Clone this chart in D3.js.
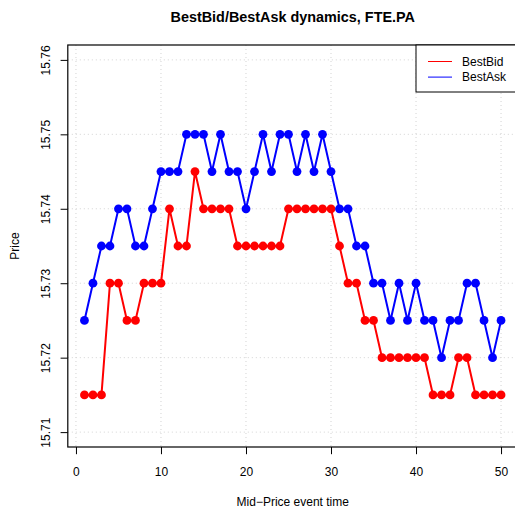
<!DOCTYPE html>
<html>
<head>
<meta charset="utf-8">
<script src="https://cdn.jsdelivr.net/npm/d3@7"></script>
<style>
  body { margin: 0; background: #fff; }
  text { font-family: "Liberation Sans", Arial, sans-serif; fill: #000; }
</style>
</head>
<body>
<div class="chart"></div>
<script>
// data
const times = d3.range(1, 51)
const bestBid = [
  15.715, 15.715, 15.715, 15.73, 15.73, 15.725, 15.725, 15.73, 15.73, 15.73,
  15.74, 15.735, 15.735, 15.745, 15.74, 15.74, 15.74, 15.74, 15.735, 15.735,
  15.735, 15.735, 15.735, 15.735, 15.74, 15.74, 15.74, 15.74, 15.74, 15.74,
  15.735, 15.73, 15.73, 15.725, 15.725, 15.72, 15.72, 15.72, 15.72, 15.72,
  15.72, 15.715, 15.715, 15.715, 15.72, 15.72, 15.715, 15.715, 15.715, 15.715
]
const bestAsk = [
  15.725, 15.73, 15.735, 15.735, 15.74, 15.74, 15.735, 15.735, 15.74, 15.745,
  15.745, 15.745, 15.75, 15.75, 15.75, 15.745, 15.75, 15.745, 15.745, 15.74,
  15.745, 15.75, 15.745, 15.75, 15.75, 15.745, 15.75, 15.745, 15.75, 15.745,
  15.74, 15.74, 15.735, 15.735, 15.73, 15.73, 15.725, 15.73, 15.725, 15.73,
  15.725, 15.725, 15.72, 15.725, 15.725, 15.73, 15.73, 15.725, 15.72, 15.725
]
const xTicks = [0, 10, 20, 30, 40, 50]
const yTicks = [15.71, 15.72, 15.73, 15.74, 15.75, 15.76]
const seriesNames = ['BestBid', 'BestAsk']
const seriesColors = ['red', 'blue']

const W = 515, H = 509
const plot = {left: 67.8, right: 517.7, top: 45, bottom: 447}

const svg = d3.select('.chart').append('svg')
  .attr('width', W).attr('height', H)

const x = d3.scaleLinear().domain([-0.96, 51.96]).range([plot.left, plot.right])
const y = d3.scaleLinear().domain([15.708, 15.762]).range([plot.bottom, plot.top])

// grid
svg.append('g').selectAll('line').data(xTicks).enter().append('line')
  .attr('x1', d => x(d)).attr('x2', d => x(d))
  .attr('y1', plot.top).attr('y2', plot.bottom)
  .style('stroke', '#d3d3d3').style('stroke-dasharray', '1,3')
svg.append('g').selectAll('line').data(yTicks).enter().append('line')
  .attr('x1', plot.left).attr('x2', plot.right)
  .attr('y1', d => y(d)).attr('y2', d => y(d))
  .style('stroke', '#d3d3d3').style('stroke-dasharray', '1,3')

// axes
const xAxis = svg.append('g')
  .attr('transform', 'translate(0,' + plot.bottom + ')')
  .call(d3.axisBottom(x).tickValues(xTicks).tickSize(7.2).tickPadding(17).tickSizeOuter(0))
xAxis.select('.domain').remove()
xAxis.selectAll('text').style('font-size', '12px').attr('dy', null)
  .attr('y', 29)

const yAxis = svg.append('g')
  .attr('transform', 'translate(' + plot.left + ',0)')
  .call(d3.axisLeft(y).tickValues(yTicks).tickSize(7.2).tickFormat(d3.format('.2f')).tickSizeOuter(0))
yAxis.select('.domain').remove()
yAxis.selectAll('text')
  .style('font-size', '12px')
  .attr('x', null).attr('dy', null)
  .attr('text-anchor', 'middle')
  .attr('transform', 'translate(-17.5,0) rotate(-90)')

// box
svg.append('rect')
  .attr('x', plot.left).attr('y', plot.top)
  .attr('width', plot.right - plot.left).attr('height', plot.bottom - plot.top)
  .style('fill', 'none').style('stroke', '#000').style('stroke-width', 1.2)

// series
const series = [bestBid, bestAsk]
series.forEach((vals, i) => {
  const pts = times.map((t, j) => [t, vals[j]])
  svg.append('path').datum(pts)
    .attr('d', d3.line().x(d => x(d[0])).y(d => y(d[1])))
    .style('fill', 'none').style('stroke', seriesColors[i]).style('stroke-width', 2)
  svg.append('g').selectAll('circle').data(pts).enter().append('circle')
    .attr('cx', d => x(d[0])).attr('cy', d => y(d[1]))
    .attr('r', 4.4)
    .style('fill', seriesColors[i])
})

// legend
const lg = svg.append('g')
lg.append('rect')
  .attr('x', 416).attr('y', plot.top).attr('width', 110).attr('height', 47)
  .style('fill', '#fff').style('stroke', '#000').style('stroke-width', 1)
seriesNames.forEach((name, i) => {
  const ly = 61.5 + i * 15.6
  lg.append('line')
    .attr('x1', 428).attr('x2', 452).attr('y1', ly).attr('y2', ly)
    .style('stroke', seriesColors[i]).style('stroke-width', 1)
  lg.append('text')
    .attr('x', 462).attr('y', ly + 4.3)
    .style('font-size', '12px')
    .text(name)
})

// titles
svg.append('text')
  .attr('x', (plot.left + plot.right) / 2).attr('y', 22)
  .attr('text-anchor', 'middle')
  .style('font-size', '14.4px').style('font-weight', 'bold')
  .text('BestBid/BestAsk dynamics, FTE.PA')
svg.append('text')
  .attr('x', (plot.left + plot.right) / 2).attr('y', 505.5)
  .attr('text-anchor', 'middle')
  .style('font-size', '12px')
  .text('Mid\u2212Price event time')
svg.append('text')
  .attr('transform', 'translate(18.5,' + (plot.top + plot.bottom) / 2 + ') rotate(-90)')
  .attr('text-anchor', 'middle')
  .style('font-size', '12px')
  .text('Price')
</script>
</body>
</html>
